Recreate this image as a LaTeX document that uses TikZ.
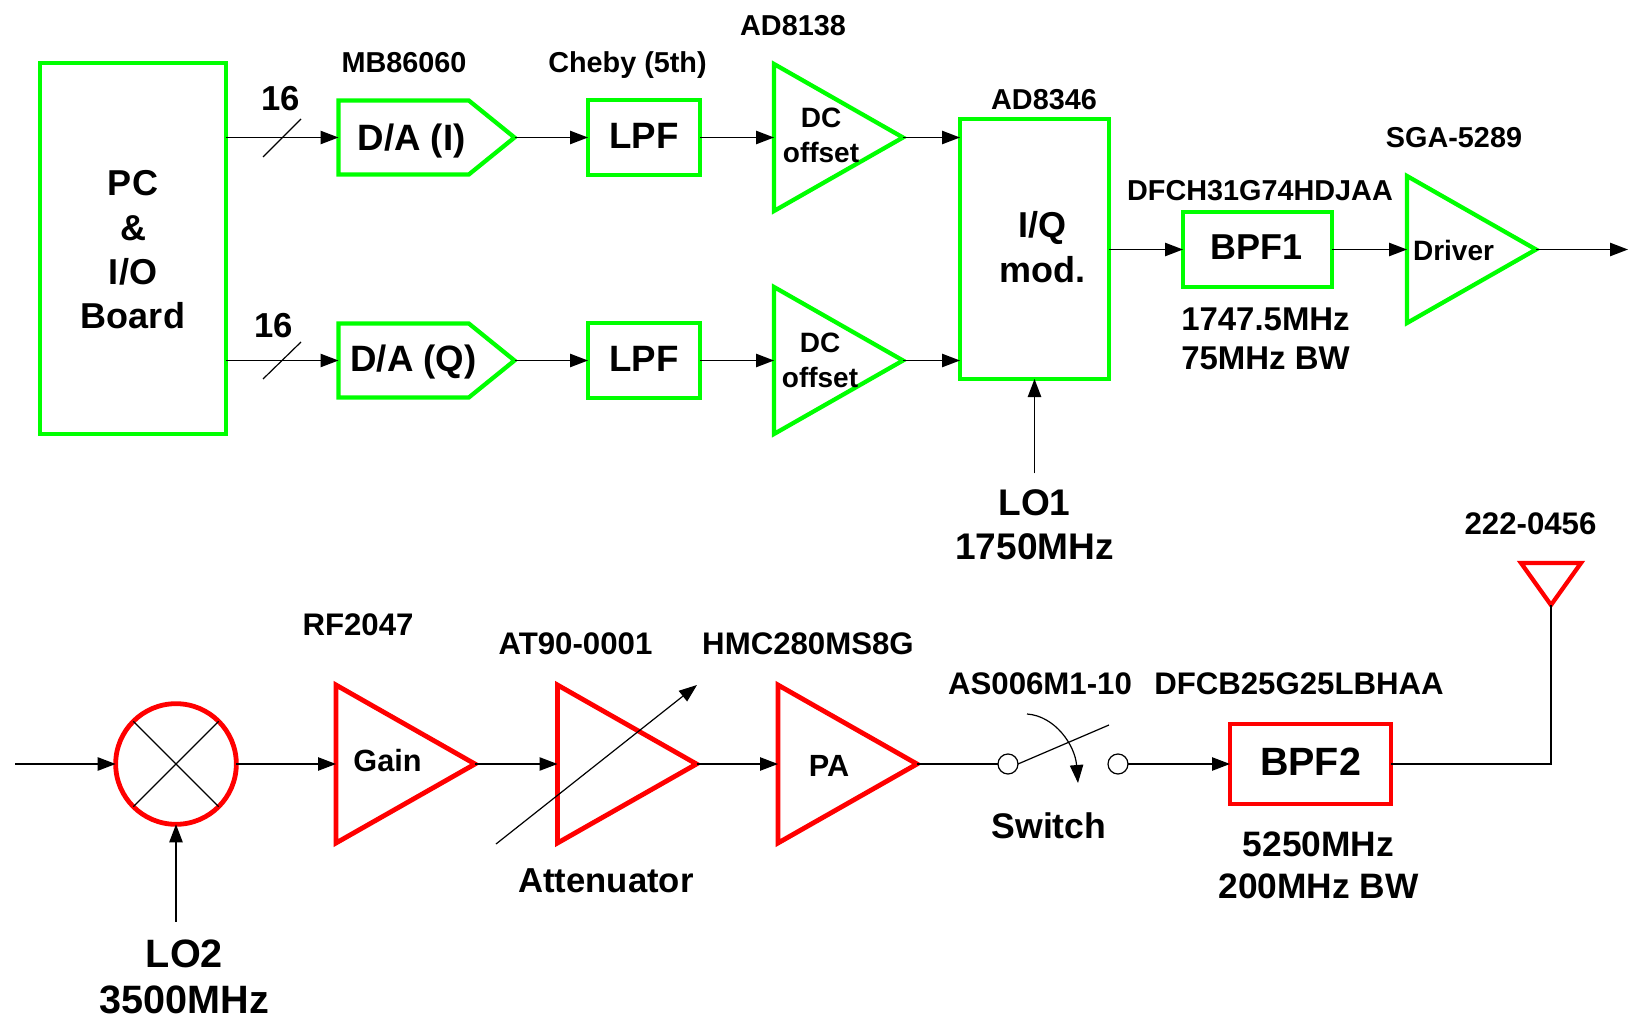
\documentclass[tikz,border=0pt]{standalone}
\usepackage{fontspec}
\setmainfont{Liberation Sans}
\usetikzlibrary{arrows.meta,shapes.geometric,shapes.symbols}

\definecolor{boxgreen}{RGB}{0,255,0}
\definecolor{boxred}{RGB}{255,0,0}

\tikzset{every picture/.style={line width=1.1pt}}
\tikzset{txt/.style 2 args={inner sep=0pt,align=center,font=\fontsize{#1}{#2}\selectfont\bfseries}}
\tikzset{partlabel/.style={txt={21.6}{26}}}
\tikzset{partlabelred/.style={txt={23.4}{28}}}
\tikzset{greenbox/.style={draw=boxgreen,line width=3.2pt,inner sep=0pt,outer sep=0pt,rectangle}}
\tikzset{redbox/.style={draw=boxred,line width=3.6pt,inner sep=0pt,outer sep=0pt,rectangle}}
\tikzset{amp/.style={isosceles triangle,isosceles triangle stretches,inner sep=0pt,outer sep=0pt,anchor=lower side}}
\tikzset{greenamp/.style={amp,draw=boxgreen,line width=3.2pt,minimum width=110.25pt,minimum height=96.75pt}}
\tikzset{redamp/.style={amp,draw=boxred,line width=3.6pt,minimum width=118.5pt,minimum height=104.25pt}}
\tikzset{dac/.style={signal,signal to=east,signal pointer angle=78,draw=boxgreen,line width=3.2pt,inner sep=0pt,outer sep=0pt,minimum width=132pt,minimum height=55.5pt,anchor=west}}
\tikzset{conn/.style={-{Triangle[length=13.5pt,width=10pt]}}}
\tikzset{contact/.style={circle,draw,line width=0.9pt,inner sep=0pt,outer sep=0pt,minimum size=15pt}}

\begin{document}
\begin{tikzpicture}[x=0.75pt,y=0.75pt,yscale=-1,xscale=1]
\useasboundingbox (0,0) rectangle (1629,1024);

%Shape: Rectangle
\node (pc) [greenbox,minimum width=139.5pt,minimum height=278.25pt] at (133,248.5) {};
\node (pctext) [txt={27}{33.3}] at (133,250) {PC\\\&\\I/O\\Board};
\node (lpfI) [greenbox,minimum width=84pt,minimum height=56.25pt] at (644,137.5) {};
\node (lpfItext) [txt={27.5}{33}] at (644,136) {LPF};
\node (lpfQ) [greenbox,minimum width=84pt,minimum height=56.25pt] at (644,360.5) {};
\node (lpfQtext) [txt={27.5}{33}] at (644,359) {LPF};
\node (iq) [greenbox,minimum width=111.75pt,minimum height=195pt] at (1034.5,249) {};
\node (iqtext) [txt={27}{33.8}] at (1042,247.5) {I/Q\\mod.};
\node (bpfA) [greenbox,minimum width=111.75pt,minimum height=56.25pt] at (1257.5,249.5) {};
\node (bpfAtext) [txt={27}{33}] at (1256.5,247) {BPF1};
\node (bpfB) [redbox,minimum width=120.75pt,minimum height=60pt] at (1310.5,764) {};
\node (bpfBtext) [txt={29.6}{35}] at (1310.5,762) {BPF2};

%Shape: Pentagon
\node (dacI) [dac] at (338.5,137.5) {};
\node (dacItext) [txt={27.5}{33}] at (411.5,141) {D/A (I)};
\node (dacQ) [dac] at (338.5,360.5) {};
\node (dacQtext) [txt={27.5}{33}] at (413.5,362) {D/A (Q)};

%Shape: Triangle
\node (dcI) [greenamp] at (774,137.5) {};
\node (dcItext) [txt={21}{26.3}] at (821,135) {DC\\offset};
\node (dcQ) [greenamp] at (774,360.5) {};
\node (dcQtext) [txt={21}{26.3}] at (820,360) {DC\\offset};
\node (drv) [greenamp] at (1407,249.5) {};
\node (drvtext) [txt={21}{26}] at (1453.5,250) {Driver};
\node (gain) [redamp] at (336,764) {};
\node (gaintext) [txt={23}{28}] at (387.5,761) {Gain};
\node (att) [redamp] at (557.5,764) {};
\node (pa) [redamp] at (778,764) {};
\node (patext) [txt={23}{28}] at (829,766) {PA};
\node (ant) [isosceles triangle,isosceles triangle stretches,shape border rotate=270,draw=boxred,line width=3.2pt,inner sep=0pt,outer sep=0pt,minimum width=45pt,minimum height=31.5pt,anchor=apex] at (1551,605) {};

%Shape: Circle
\node (mix) [circle,draw=boxred,line width=3.6pt,inner sep=0pt,outer sep=0pt,minimum size=90.5pt] at (176,764) {};
\node (swA) [contact] at (1008,764) {};
\node (swB) [contact] at (1118,764) {};

% Text Node
\node (mbtext) [partlabel] at (404,63) {MB86060};
\node (chebytext) [partlabel] at (627.5,65) {Cheby (5th)};
\node (adAtext) [partlabel] at (793,26) {AD8138};
\node (adBtext) [partlabel] at (1044,100) {AD8346};
\node (sgatext) [partlabel] at (1454,138) {SGA-5289};
\node (dfchtext) [partlabel] at (1260,191) {DFCH31G74HDJAA};
\node (anttext) [partlabelred] at (1530.5,523.5) {222-0456};
\node (rftext) [partlabelred] at (358,625) {RF2047};
\node (attparttext) [partlabelred] at (575.5,644) {AT90-0001};
\node (hmctext) [partlabelred] at (808,644) {HMC280MS8G};
\node (astext) [partlabelred] at (1040,684) {AS006M1-10};
\node (dfcbtext) [partlabelred] at (1299,684) {DFCB25G25LBHAA};
\node (busItext) [txt={26}{30}] at (280.5,99) {16};
\node (busQtext) [txt={26}{30}] at (274,326) {16};
\node (bpfAfreq) [txt={24.7}{29.6}] at (1265.5,339) {1747.5MHz\\75MHz BW};
\node (lo1) [txt={27.8}{32.7}] at (1034.5,525) {LO1\\1750MHz};
\node (lo2) [txt={29.7}{35}] at (184.5,977) {LO2\\3500MHz};
\node (atttext) [txt={26}{31}] at (606,881) {Attenuator};
\node (swtext) [txt={26.7}{31}] at (1049,826) {Switch};
\node (bpfBfreq) [txt={26.5}{31.5}] at (1318.5,865) {5250MHz\\200MHz BW};

\coordinate (lo1top) at ([yshift=-12pt]lo1.north);
\coordinate (lo2top) at ([yshift=-13pt]lo2.north);
\coordinate (vin) at (15,764);
\coordinate (vout) at (1628,249.5);
\coordinate (attlow) at (496,844);
\coordinate (atthigh) at (697,685);
\coordinate (swtip) at (1109,725);
\coordinate (swarcA) at (1027,714);
\coordinate (swarcB) at (1078,783);

%Straight Lines
\draw [conn] (pc.east |- dacI.west) -- (dacI.west);
\draw [conn] (pc.east |- dacQ.west) -- (dacQ.west);
\draw [conn] (dacI.east) -- (lpfI.west);
\draw [conn] (dacQ.east) -- (lpfQ.west);
\draw [conn] (lpfI.east) -- (dcI.lower side);
\draw [conn] (lpfQ.east) -- (dcQ.lower side);
\draw [conn] (dcI.apex) -- (iq.west |- dcI.apex);
\draw [conn] (dcQ.apex) -- (iq.west |- dcQ.apex);
\draw [conn] (iq.east |- bpfA.west) -- (bpfA.west);
\draw [conn] (bpfA.east) -- (drv.lower side);
\draw [conn] (drv.apex) -- (vout);
\draw [conn] (lo1top) -- (iq.south -| lo1top);
\draw [conn] (vin) -- (mix.west);
\draw [conn] (mix |- lo2top) -- (mix.south);
\draw [conn] (mix.east) -- (gain.lower side);
\draw [conn] (gain.apex) -- (att.lower side);
\draw [conn] (att.apex) -- (pa.lower side);
\draw (pa.apex) -- (swA.west);
\draw [conn] (swB.east) -- (bpfB.west);
\draw (bpfB.east) -- (bpfB.east -| ant.apex) -- (ant.apex);

%Bus ticks, mixer cross, attenuator and switch
\draw [line width=0.9pt] (263,157) -- (301,119);
\draw [line width=0.9pt] (263,379) -- (301,342);
\draw [line width=0.9pt] (mix.north west) -- (mix.south east);
\draw [line width=0.9pt] (mix.south west) -- (mix.north east);
\draw [conn,line width=0.9pt] (attlow) -- (atthigh);
\draw [line width=0.9pt] (swA.east) -- (swtip);
\draw [conn,line width=0.9pt] (swarcA) .. controls (1055,716) and (1075,745) .. (swarcB);

\end{tikzpicture}
\end{document}
